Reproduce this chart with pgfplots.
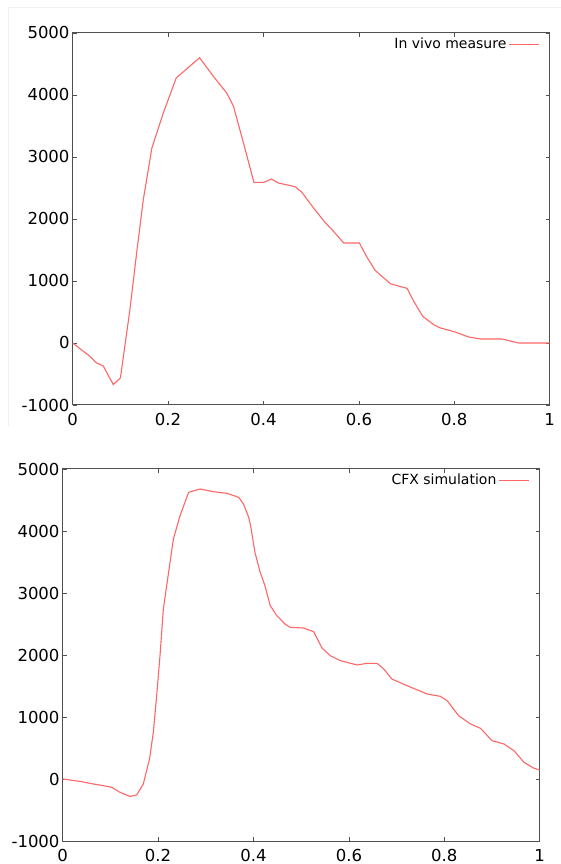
\documentclass[border=0pt]{standalone}
\usepackage{pgfplots}
\pgfplotsset{compat=1.18}
\usepackage{fontspec}
\setmainfont{DejaVu Sans}
\definecolor{curve}{RGB}{255,102,102}
\definecolor{frame}{RGB}{80,80,80}

\pgfplotsset{
  panel/.style={
    scale only axis,
    width=477pt, height=372pt,
    xmin=0, xmax=1, ymin=-1000, ymax=5000,
    xtick={0,0.2,...,1}, ytick={-1000,0,...,5000},
    xticklabels={0,0.2,0.4,0.6,0.8,1},
    scaled y ticks=false,
    /pgf/number format/assume math mode=true,
    /pgf/number format/1000 sep={},
    axis line style={frame, line width=1pt},
    major tick style={frame, line width=0.8pt},
    tick align=inside, major tick length=4pt,
    ticklabel style={font=\fontsize{16.5}{18}\selectfont, inner sep=0pt},
    yticklabel style={xshift=-3pt},
    xticklabel style={yshift=-8pt},
    legend style={draw=none, fill=none, at={(1,1)}, anchor=north east,
      xshift=-9pt, yshift=-2pt, inner sep=1pt,
      font=\fontsize{14}{16}\selectfont, legend cell align=right},
    legend plot pos=right,
    legend image code/.code={\draw[##1] (0pt,0pt) -- (30pt,0pt);},
  },
}

\begin{document}
\begin{tikzpicture}[x=1pt,y=1pt]
\path[use as bounding box] (0,0) rectangle (561,864);
\draw[black!6, line width=1pt] (8,438) -- (8,856) -- (561,856);

\begin{axis}[panel, at={(72.7pt,459pt)}, anchor=south west]
\addplot[curve, line width=1.1pt] coordinates {
(0,0) (0.036,-215) (0.05,-320) (0.064,-370) (0.085,-670) (0.10,-565)
(0.12,540) (0.134,1450) (0.148,2310) (0.166,3145) (0.19,3710) (0.217,4275)
(0.266,4600) (0.295,4300) (0.323,4030) (0.337,3820) (0.358,3225) (0.38,2590)
(0.40,2590) (0.417,2645) (0.431,2580) (0.456,2540) (0.467,2516) (0.48,2435)
(0.505,2177) (0.529,1945) (0.547,1800) (0.568,1613) (0.601,1613) (0.616,1397)
(0.634,1171) (0.666,956) (0.701,881) (0.715,671) (0.734,429) (0.757,295)
(0.771,242) (0.802,177) (0.830,97) (0.855,65) (0.90,65) (0.935,0) (1.0,0)
};
\addlegendentry{In vivo measure}
\end{axis}

\begin{axis}[panel, at={(62.7pt,23pt)}, anchor=south west]
\addplot[curve, line width=1.1pt] coordinates {
(0,0) (0.036,-38) (0.064,-80) (0.085,-107) (0.103,-134) (0.12,-215)
(0.141,-280) (0.155,-258) (0.169,-80) (0.182,322) (0.19,753) (0.197,1344)
(0.204,1990) (0.211,2742) (0.222,3333) (0.232,3870) (0.246,4247) (0.264,4624)
(0.288,4677) (0.316,4634) (0.344,4608) (0.369,4543) (0.379,4435) (0.39,4220)
(0.394,4086) (0.403,3656) (0.414,3333) (0.424,3118) (0.435,2796) (0.449,2634)
(0.466,2500) (0.477,2446) (0.505,2435) (0.526,2376) (0.544,2108) (0.561,1989)
(0.582,1909) (0.617,1839) (0.638,1866) (0.659,1866) (0.673,1774) (0.69,1613)
(0.722,1505) (0.764,1371) (0.792,1333) (0.806,1263) (0.830,1021) (0.855,887)
(0.876,817) (0.90,618) (0.925,565) (0.946,457) (0.967,269) (0.988,173) (1.0,145)
};
\addlegendentry{CFX simulation}
\end{axis}
\end{tikzpicture}
\end{document}
